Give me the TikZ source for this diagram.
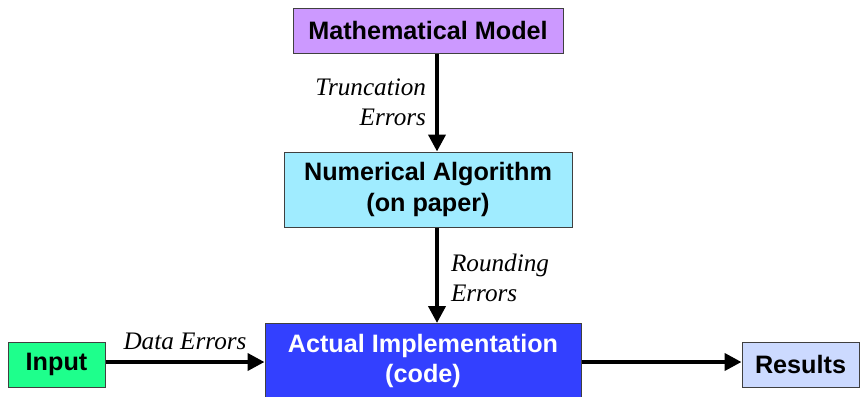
\documentclass[tikz,border=0pt]{standalone}
\usepackage{fontspec}
\setmainfont{Liberation Serif}
\setsansfont{Liberation Sans}
\usetikzlibrary{positioning,arrows.meta}

\definecolor{c_model}{RGB}{204,153,255}
\definecolor{c_algo}{RGB}{160,236,255}
\definecolor{c_impl}{RGB}{51,64,255}
\definecolor{c_input}{RGB}{30,255,140}
\definecolor{c_result}{RGB}{204,218,255}

\begin{document}
\begin{tikzpicture}[x=0.5pt,y=-0.5pt,
	>={Triangle[length=8.5pt,width=8.5pt]},
	n_box/.style={
		rectangle,
		draw=black!75,
		line width=0.5pt,
		inner sep=0pt,
		align=center,
		font=\sffamily\bfseries\fontsize{12.6}{15.1}\selectfont,
		},
	n_err/.style={
		inner sep=0pt,
		font=\itshape\fontsize{12.6}{15.1}\selectfont,
		},
	e_flow/.style={line width=2pt}]

	\useasboundingbox (0,0) rectangle (860,396);

	\node(model)[n_box, fill=c_model, minimum width=135pt, minimum height=22.5pt] at (428,30.5) {Mathematical Model};
	\node(algo)[n_box, fill=c_algo, minimum width=144pt, minimum height=37.5pt] at (428,189.5) {Numerical Algorithm\\(on paper)};
	\node(impl)[n_box, fill=c_impl, text=white, anchor=north, minimum width=158pt, minimum height=48pt, text depth=13pt] at (423,323) {Actual Implementation\\(code)};
	\node(input)[n_box, fill=c_input, minimum width=48.5pt, minimum height=22.5pt] at (56.5,364.5) {Input};
	\node(result)[n_box, fill=c_result, minimum width=58.5pt, minimum height=22.5pt] at (800.5,364.5) {Results};
	\coordinate(axis) at (437,0);
	\coordinate(row) at (0,362);

	\path (model.south -| axis) edge[->, e_flow] node[n_err, left=4.5pt, align=right]{Truncation\\Errors} (algo.north -| axis);
	\path (algo.south -| axis) edge[->, e_flow] node[n_err, right=6pt, yshift=-1.5pt, align=left]{Rounding\\Errors} (impl.north -| axis);
	\path (input.east |- row) edge[->, e_flow] node[n_err, above=5pt]{Data Errors} (impl.west |- row);
	\path (impl.east |- row) edge[->, e_flow] (result.west |- row);

\end{tikzpicture}
\end{document}
